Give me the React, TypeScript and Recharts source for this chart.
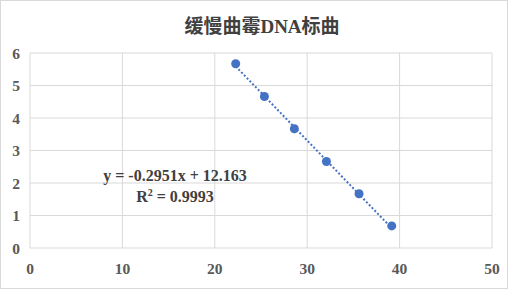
import { ComposedChart, Scatter, XAxis, YAxis, CartesianGrid } from 'recharts';

const ctValues = [22.26, 25.37, 28.61, 32.08, 35.61, 39.15];
const logConc = [5.67, 4.66, 3.67, 2.66, 1.67, 0.68];
const trendX = [22.26, 39.15];
const trendY = [5.59, 0.61];
const xTicks = [0, 10, 20, 30, 40, 50];
const yTicks = [0, 1, 2, 3, 4, 5, 6];

const points = ctValues.map((x, i) => ({ x, y: logConc[i] }));
const trend = trendX.map((x, i) => ({ x, y: trendY[i] }));

const serif = '"Liberation Serif", "Times New Roman", "Noto Sans CJK SC", serif';

type TickProps = { x: number; y: number; payload: { value: number } };

const XTick = (props: unknown) => {
  const { x, y, payload } = props as TickProps;
  return (
    <text x={x} y={y + 14} textAnchor="middle" fontFamily={serif} fontSize={15.5} fontWeight={700} fill="#595959">
      {payload.value}
    </text>
  );
};

const YTick = (props: unknown) => {
  const { x, y, payload } = props as TickProps;
  return (
    <text x={x} y={y + 5.5} textAnchor="end" fontFamily={serif} fontSize={15.5} fontWeight={700} fill="#595959">
      {payload.value}
    </text>
  );
};

export default function App() {
  return (
    <div style={{ position: 'absolute', left: 0, top: 0, width: 508, height: 289, background: '#fff' }}>
      <ComposedChart
        width={508}
        height={289}
        margin={{ top: 53, right: 16, left: 0, bottom: 0 }}
      >
        <CartesianGrid stroke="#d9d9d9" strokeWidth={1} />
        <XAxis
          type="number"
          dataKey="x"
          domain={[0, 50]}
          ticks={xTicks}
          axisLine={false}
          tickLine={false}
          tickMargin={6}
          height={41}
          tick={XTick}
          interval={0}
        />
        <YAxis
          type="number"
          dataKey="y"
          domain={[0, 6]}
          ticks={yTicks}
          axisLine={false}
          tickLine={false}
          tickMargin={4}
          width={30}
          tick={YTick}
          interval={0}
        />
        <Scatter
          data={trend}
          line={{ stroke: '#4472C4', strokeWidth: 2, strokeDasharray: '2 2' }}
          shape={() => <g />}
          isAnimationActive={false}
        />
        <Scatter
          data={points}
          fill="#4472C4"
          shape={(props: unknown) => {
            const { cx, cy } = props as { cx: number; cy: number };
            return <circle cx={cx} cy={cy} r={4.5} fill="#4472C4" />;
          }}
          isAnimationActive={false}
        />
      </ComposedChart>
      <div
        style={{
          position: 'absolute',
          left: 0,
          top: 11,
          width: 524,
          textAlign: 'center',
          fontFamily: serif,
          fontWeight: 700,
          fontSize: 19,
          color: '#404040',
        }}
      >
        缓慢曲霉DNA标曲
      </div>
      <div
        style={{
          position: 'absolute',
          left: 75,
          top: 165,
          width: 200,
          textAlign: 'center',
          fontFamily: serif,
          fontWeight: 700,
          fontSize: 16,
          lineHeight: '21px',
          color: '#404040',
        }}
      >
        <div>y = -0.2951x + 12.163</div>
        <div>
          R<sup style={{ fontSize: 10, verticalAlign: 'top', lineHeight: '14px' }}>2</sup> = 0.9993
        </div>
      </div>
      <div
        style={{
          position: 'absolute',
          inset: 0,
          border: '1px solid #d9d9d9',
          pointerEvents: 'none',
        }}
      />
    </div>
  );
}
